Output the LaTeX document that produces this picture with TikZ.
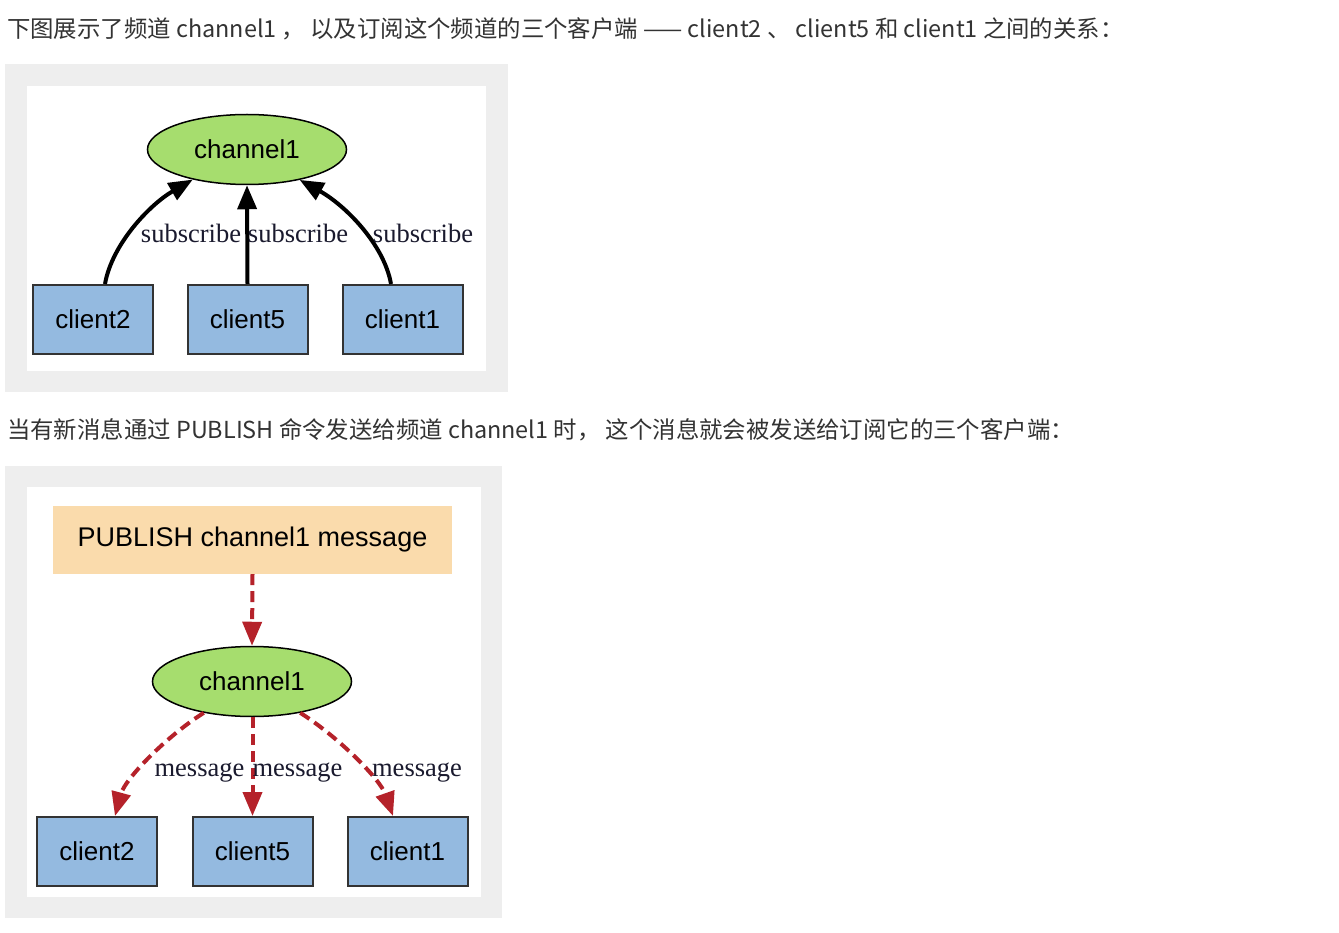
\documentclass[tikz,border=0pt]{standalone}
\usepackage{fontspec}
\setmainfont{Liberation Sans}
\newfontfamily\cjkfont{Noto Sans CJK SC}
\newfontfamily\serifff{Liberation Serif}
\usetikzlibrary{arrows.meta,shapes.geometric}
\definecolor{framegray}{HTML}{EEEEEE}
\definecolor{chgreen}{HTML}{A6DD6E}
\definecolor{clblue}{HTML}{94BAE0}
\definecolor{pubpeach}{HTML}{FADBAC}
\definecolor{msgred}{HTML}{B5222A}
\definecolor{bodytext}{HTML}{333333}
\definecolor{lbltext}{HTML}{1A1A2E}
\tikzset{
  heading/.style={anchor=west,inner sep=0pt,text=bodytext,font=\cjkfont\fontsize{23.4}{28}\selectfont},
  chan/.style={ellipse,draw=black,line width=1.5pt,fill=chgreen,minimum width=199pt,minimum height=70pt,inner sep=0pt,font=\fontsize{26}{30}\selectfont},
  clientbox/.style={rectangle,draw=black!80,line width=2pt,fill=clblue,minimum width=120pt,minimum height=69pt,inner sep=0pt,font=\fontsize{26}{30}\selectfont},
  pubbox/.style={rectangle,fill=pubpeach,minimum width=399pt,minimum height=68pt,inner sep=0pt,font=\fontsize{27}{32}\selectfont},
  edgelbl/.style={anchor=base,inner sep=0pt,text=lbltext,font=\serifff\fontsize{26.5}{30}\selectfont},
  subarrow/.style={line width=4pt,-{Triangle[length=24pt,width=19pt]}},
  msgarrow/.style={line width=4pt,draw=msgred,dash pattern=on 11pt off 6pt,-{Triangle[length=24pt,width=19pt,fill=msgred]}},
}
\begin{document}
\begin{tikzpicture}[x=1pt,y=1pt]
\useasboundingbox (0,0) rectangle (1339,-933);
\fill[white] (0,0) rectangle (1339,-933);

% heading lines
\node[heading] (h1) at (7,-29) {下图展示了频道 channel1 ， 以及订阅这个频道的三个客户端 —— client2 、 client5 和 client1 之间的关系：};
\node[heading] (h2) at (7,-430) {当有新消息通过 PUBLISH 命令发送给频道 channel1 时， 这个消息就会被发送给订阅它的三个客户端：};

% ---- panel 1 ----
\fill[framegray] (5,-64) rectangle (508,-392);
\fill[white] (27,-86) rectangle (486,-371);

\node[chan] (ch1) at (247,-149.5) {channel1};
\node[clientbox] (c2a) at (93,-319.5) {client2};
\node[clientbox] (c5a) at (247.5,-319.5) {client5};
\node[clientbox] (c1a) at (402.5,-319.5) {client1};

\draw[subarrow] ([xshift=12pt]c2a.north) .. controls +(7,40) and +(-43,-25) .. (ch1.209);
\draw[subarrow] (c5a.north) -- (ch1.south);
\draw[subarrow] ([xshift=-11.5pt]c1a.north) .. controls +(-7,40) and +(45,-25) .. (ch1.330);

\node[edgelbl] (s1) at (191,-243) {subscribe};
\node[edgelbl] (s2) at (298,-243) {subscribe};
\node[edgelbl] (s3) at (423,-243) {subscribe};

% ---- panel 2 ----
\fill[framegray] (5,-466) rectangle (502,-918);
\fill[white] (27,-487) rectangle (481,-897);

\node[pubbox] (pub) at (252.5,-540) {PUBLISH channel1 message};
\node[chan] (ch2) at (252,-681.5) {channel1};
\node[clientbox] (c2b) at (97,-851.5) {client2};
\node[clientbox] (c5b) at (252.5,-851.5) {client5};
\node[clientbox] (c1b) at (407.5,-851.5) {client1};

\draw[msgarrow] (pub.south) -- (ch2.north);
\draw[msgarrow] (ch2.213) .. controls +(-38,-24) and +(10,37) .. ([xshift=18pt]c2b.north);
\draw[msgarrow] (c5b.north |- ch2.south) -- (c5b.north);
\draw[msgarrow] (ch2.327) .. controls +(38,-24) and +(-13,37) .. ([xshift=-14.5pt]c1b.north);

\node[edgelbl] (m1) at (199.5,-776) {message};
\node[edgelbl] (m2) at (297.5,-776) {message};
\node[edgelbl] (m3) at (417,-776) {message};
\end{tikzpicture}
\end{document}
